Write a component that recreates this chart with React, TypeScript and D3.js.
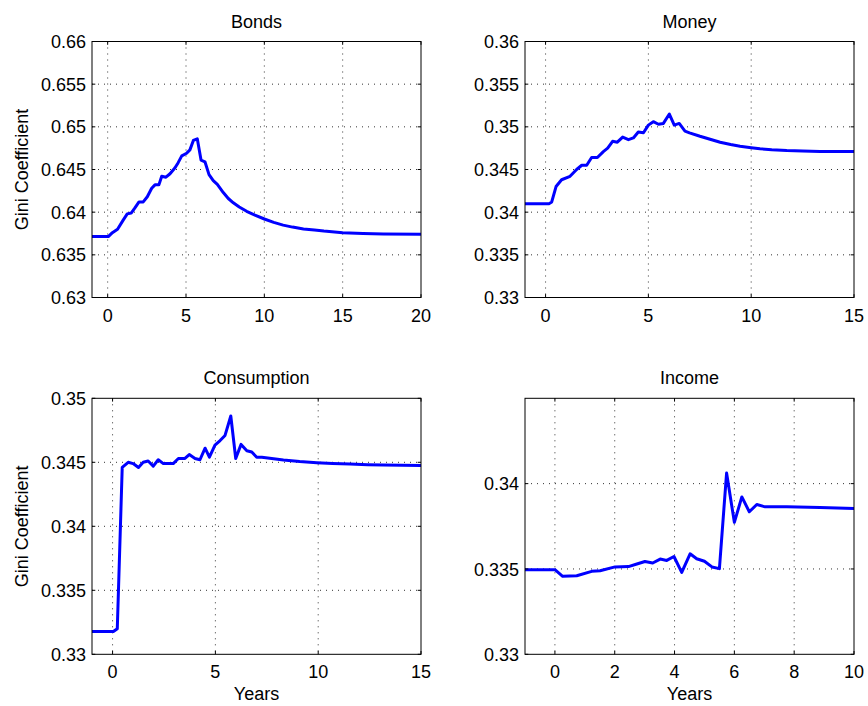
import React from "react";
import * as d3 from "d3";

// ---------- data ----------
const bondsYears = [-1, 0.04, 0.3, 0.63, 1.0, 1.25, 1.5, 1.74, 2.0, 2.27, 2.53, 2.81, 3.02, 3.27, 3.45, 3.72, 3.98, 4.3, 4.5, 4.73, 5.04, 5.25, 5.47, 5.72, 5.96, 6.21, 6.47, 6.74, 7.0, 7.38, 7.7, 8.02, 8.4, 8.87, 9.4, 10.0, 10.6, 11.2, 11.8, 12.5, 13.2, 13.8, 15.0, 16.3, 17.6, 20.0];
const bondsGini = [0.63714, 0.63714, 0.6376, 0.638, 0.6391, 0.6398, 0.6399, 0.6405, 0.6412, 0.6412, 0.6418, 0.6428, 0.6432, 0.6432, 0.6442, 0.6441, 0.6445, 0.6452, 0.6458, 0.6466, 0.6469, 0.6473, 0.6484, 0.6486, 0.6461, 0.6459, 0.6444, 0.6437, 0.64325, 0.6423, 0.6416, 0.6411, 0.6406, 0.6401, 0.63965, 0.6392, 0.6388, 0.63848, 0.63825, 0.63803, 0.6379, 0.63778, 0.6376, 0.6375, 0.63745, 0.6374];

const moneyYears = [-1, 0.18, 0.3, 0.51, 0.78, 1.19, 1.51, 1.76, 2.0, 2.24, 2.52, 2.81, 3.02, 3.26, 3.49, 3.75, 4.03, 4.27, 4.51, 4.76, 5.0, 5.24, 5.49, 5.73, 6.02, 6.26, 6.5, 6.78, 7.0, 7.51, 8.0, 8.49, 9.0, 9.46, 10.0, 10.43, 11.0, 11.73, 12.5, 13.35, 15.0];
const moneyGini = [0.341, 0.341, 0.3412, 0.343, 0.3438, 0.3442, 0.345, 0.3455, 0.3455, 0.3464, 0.3464, 0.3471, 0.3475, 0.3483, 0.3482, 0.3488, 0.3485, 0.3487, 0.3494, 0.3493, 0.3502, 0.3506, 0.3503, 0.3504, 0.3515, 0.3502, 0.3504, 0.3495, 0.3493, 0.3489, 0.34855, 0.3482, 0.34792, 0.34772, 0.34755, 0.34743, 0.34732, 0.34722, 0.34716, 0.34712, 0.3471];

const consYears = [-1, 0.04, 0.23, 0.47, 0.76, 1.0, 1.26, 1.49, 1.73, 1.98, 2.22, 2.47, 2.95, 3.2, 3.52, 3.73, 4.01, 4.25, 4.5, 4.71, 4.98, 5.23, 5.47, 5.75, 5.99, 6.25, 6.53, 6.77, 7.01, 7.26, 8.31, 9.1, 9.93, 10.7, 11.55, 12.4, 13.17, 15.0];
const consGini = [0.33178, 0.33178, 0.332, 0.34461, 0.345, 0.3449, 0.3446, 0.345, 0.3451, 0.3447, 0.3452, 0.3449, 0.3449, 0.3453, 0.3453, 0.3456, 0.3453, 0.3452, 0.3461, 0.3454, 0.34635, 0.3467, 0.3471, 0.34862, 0.3453, 0.3464, 0.3459, 0.3458, 0.3454, 0.3454, 0.34518, 0.34506, 0.34497, 0.34491, 0.34486, 0.34481, 0.34478, 0.34475];

const incomeYears = [-1, 0.0, 0.26, 0.73, 1.23, 1.51, 2.01, 2.46, 2.74, 3.01, 3.27, 3.52, 3.74, 3.98, 4.24, 4.52, 4.74, 5.0, 5.25, 5.5, 5.74, 6.0, 6.25, 6.5, 6.75, 7.03, 7.75, 8.86, 10.0];
const incomeGini = [0.33496, 0.33496, 0.33457, 0.3346, 0.33486, 0.3349, 0.33512, 0.33514, 0.33529, 0.33544, 0.33535, 0.33558, 0.3355, 0.33573, 0.3348, 0.33589, 0.3356, 0.33545, 0.33512, 0.33502, 0.34062, 0.33773, 0.33922, 0.33835, 0.33878, 0.33864, 0.33864, 0.3386, 0.33855];

const titles = ["Bonds", "Money", "Consumption", "Income"];
const yLabel = "Gini Coefficient";
const xLabel = "Years";

const bondsXTicks = [0, 5, 10, 15, 20];
const fifteenXTicks = [0, 5, 10, 15];
const incomeXTicks = [0, 2, 4, 6, 8, 10];
const bondsYTicks = [0.63, 0.635, 0.64, 0.645, 0.65, 0.655, 0.66];
const bondsYTickLabels = ["0.63", "0.635", "0.64", "0.645", "0.65", "0.655", "0.66"];
const moneyYTicks = [0.33, 0.335, 0.34, 0.345, 0.35, 0.355, 0.36];
const moneyYTickLabels = ["0.33", "0.335", "0.34", "0.345", "0.35", "0.355", "0.36"];
const consYTicks = [0.33, 0.335, 0.34, 0.345, 0.35];
const consYTickLabels = ["0.33", "0.335", "0.34", "0.345", "0.35"];
const incomeYTicks = [0.33, 0.335, 0.34];
const incomeYTickLabels = ["0.33", "0.335", "0.34"];

// ---------- layout ----------
const FONT = "'Liberation Sans', Arial, Helvetica, sans-serif";
const FS = 18;
const LEFT_BOX = { l: 92, r: 421 };
const RIGHT_BOX = { l: 525, r: 854 };
const TOP_ROW = { t: 41.5, b: 297.5 };
const BOT_ROW = { t: 398.3, b: 654.3 };

type Panel = {
  title: string;
  xs: number[];
  ys: number[];
  xDomain: [number, number];
  yDomain: [number, number];
  xTicks: number[];
  yTicks: number[];
  yTickLabels: string[];
  l: number; r: number; t: number; b: number;
  showYLabel: boolean;
  showXLabel: boolean;
};

const panels: Panel[] = [
  { title: titles[0], xs: bondsYears, ys: bondsGini, xDomain: [-1, 20], yDomain: [0.63, 0.66], xTicks: bondsXTicks, yTicks: bondsYTicks, yTickLabels: bondsYTickLabels, ...LEFT_BOX, ...TOP_ROW, showYLabel: true, showXLabel: false },
  { title: titles[1], xs: moneyYears, ys: moneyGini, xDomain: [-1, 15], yDomain: [0.33, 0.36], xTicks: fifteenXTicks, yTicks: moneyYTicks, yTickLabels: moneyYTickLabels, ...RIGHT_BOX, ...TOP_ROW, showYLabel: false, showXLabel: false },
  { title: titles[2], xs: consYears, ys: consGini, xDomain: [-1, 15], yDomain: [0.33, 0.35], xTicks: fifteenXTicks, yTicks: consYTicks, yTickLabels: consYTickLabels, ...LEFT_BOX, ...BOT_ROW, showYLabel: true, showXLabel: true },
  { title: titles[3], xs: incomeYears, ys: incomeGini, xDomain: [-1, 10], yDomain: [0.33, 0.345], xTicks: incomeXTicks, yTicks: incomeYTicks, yTickLabels: incomeYTickLabels, ...RIGHT_BOX, ...BOT_ROW, showYLabel: false, showXLabel: true },
];

function PanelView({ p }: { p: Panel }) {
  const x = d3.scaleLinear().domain(p.xDomain).range([p.l, p.r]);
  const y = d3.scaleLinear().domain(p.yDomain).range([p.b, p.t]);
  const line = d3.line<number>().x((_, i) => x(p.xs[i])).y((v) => y(v));
  const path = line(p.ys) || "";
  const tickLen = 3.3;
  const eps = 0.5;
  return (
    <g>
      {/* grid */}
      {p.xTicks.map((t) => {
        const px = x(t);
        if (Math.abs(px - p.l) < eps || Math.abs(px - p.r) < eps) return null;
        return <line key={"gx" + t} x1={px} x2={px} y1={p.t} y2={p.b} stroke="#333" strokeWidth={1} strokeDasharray="1,5" />;
      })}
      {p.yTicks.map((t) => {
        const py = y(t);
        if (Math.abs(py - p.t) < eps || Math.abs(py - p.b) < eps) return null;
        return <line key={"gy" + t} x1={p.l} x2={p.r} y1={py} y2={py} stroke="#333" strokeWidth={1} strokeDasharray="1,5" />;
      })}
      {/* data line */}
      <path d={path} fill="none" stroke="#0000ff" strokeWidth={3} strokeLinejoin="round" />
      {/* ticks */}
      {p.xTicks.map((t) => (
        <g key={"tx" + t}>
          <line x1={x(t)} x2={x(t)} y1={p.b} y2={p.b - tickLen} stroke="#000" />
          <line x1={x(t)} x2={x(t)} y1={p.t} y2={p.t + tickLen} stroke="#000" />
          <text x={x(t)} y={p.b + 24} textAnchor="middle" fontSize={FS} fontFamily={FONT} fill="#000">{String(t)}</text>
        </g>
      ))}
      {p.yTicks.map((t, i) => (
        <g key={"ty" + t}>
          <line x1={p.l} x2={p.l + tickLen} y1={y(t)} y2={y(t)} stroke="#000" />
          <line x1={p.r} x2={p.r - tickLen} y1={y(t)} y2={y(t)} stroke="#000" />
          <text x={p.l - 6} y={y(t) + 6.6} textAnchor="end" fontSize={FS} fontFamily={FONT} fill="#000">{p.yTickLabels[i]}</text>
        </g>
      ))}
      {/* box */}
      <rect x={p.l} y={p.t} width={p.r - p.l} height={p.b - p.t} fill="none" stroke="#000" strokeWidth={1} />
      {/* title */}
      <text x={(p.l + p.r) / 2} y={p.t - 14} textAnchor="middle" fontSize={FS} fontFamily={FONT} fill="#000">{p.title}</text>
      {p.showYLabel && (
        <text transform={`translate(28, ${(p.t + p.b) / 2}) rotate(-90)`} textAnchor="middle" fontSize={FS} fontFamily={FONT} fill="#000">{yLabel}</text>
      )}
      {p.showXLabel && (
        <text x={(p.l + p.r) / 2} y={p.b + 45.7} textAnchor="middle" fontSize={FS} fontFamily={FONT} fill="#000">{xLabel}</text>
      )}
    </g>
  );
}

export default function App() {
  return (
    <svg width={868} height={706} style={{ position: "absolute", left: 0, top: 0, background: "#fff", display: "block" }}>
      <rect x={0} y={0} width={868} height={706} fill="#fff" />
      {panels.map((p) => (
        <PanelView key={p.title} p={p} />
      ))}
    </svg>
  );
}
